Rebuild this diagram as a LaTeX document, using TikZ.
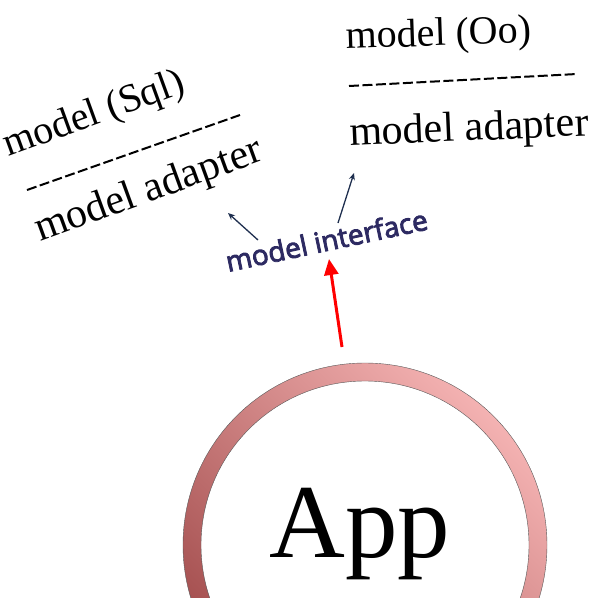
\documentclass[tikz,border=0pt]{standalone}
\usepackage{fontspec}
\setmainfont{Liberation Serif}
\newfontfamily\ifont[FakeBold=3]{Open Sans}
\usetikzlibrary{arrows.meta}
\definecolor{navy}{HTML}{2D2A62}
\definecolor{arrowc}{HTML}{1F2F4F}
\definecolor{ringdark}{HTML}{A24C4C}
\definecolor{ringlight}{HTML}{F4B2B2}
\tikzset{
  lbl/.style={font=\fontsize{40}{40}\selectfont, inner sep=0pt, anchor=base west},
  lblb/.style={font=\fontsize{42}{42}\selectfont, inner sep=0pt, anchor=base west},
  sep/.style={line width=2pt, dash pattern=on 10pt off 3.5pt},
  small/.style={draw=arrowc, line width=1.3pt, -{Stealth[length=7pt,width=6pt]}},
}
\begin{document}
\begin{tikzpicture}[x=1pt,y=-1pt]
\useasboundingbox (0,0) rectangle (598,598);
\begin{scope}
\clip (0,0) rectangle (598,598);
\shade[even odd rule, left color=ringlight, right color=ringdark, shading angle=-45]
  (365,545) circle[radius=182] (365,545) circle[radius=164];
\draw[gray!70!black, line width=0.4pt] (365,545) circle[radius=182];
\draw[gray!70!black, line width=0.4pt] (365,545) circle[radius=164];
\end{scope}
\node[font=\fontsize{105}{105}\selectfont, inner sep=0pt, anchor=base] (app) at (360,557) {App};
\coordinate (apptop) at (342,347);
% left block
\node[lbl, rotate=20] (sql) at (8,157) {model (Sql)};
\coordinate (ls1) at (27,190);
\coordinate (ls2) at (240,115);
\draw[sep] (ls1) -- (ls2);
\node[lblb, rotate=20] (lad) at (40,242) {model adapter};
% right block
\node[lbl, rotate=2] (oo) at (346,49) {model (Oo)};
\coordinate (rs1) at (349,86);
\coordinate (rs2) at (577,74);
\draw[sep] (rs1) -- (rs2);
\node[lblb, rotate=2.5] (rad) at (350,146) {model adapter};
% interface
\node[font=\ifont\fontsize{28}{28}\selectfont, text=navy, inner sep=0pt, anchor=base west, rotate=12] (mi) at (228,272) {model interface};
\coordinate (la0) at (258,240);
\coordinate (la1) at (228,213);
\coordinate (ra0) at (338,223);
\coordinate (ra1) at (354,173);
\draw[small] (la0) -- (la1);
\draw[small] (ra0) -- (ra1);
\coordinate (redtip) at (329,259);
\draw[red, line width=3pt, -{Triangle[length=16pt,width=14pt]}] (apptop) -- (redtip);
\end{tikzpicture}
\end{document}
